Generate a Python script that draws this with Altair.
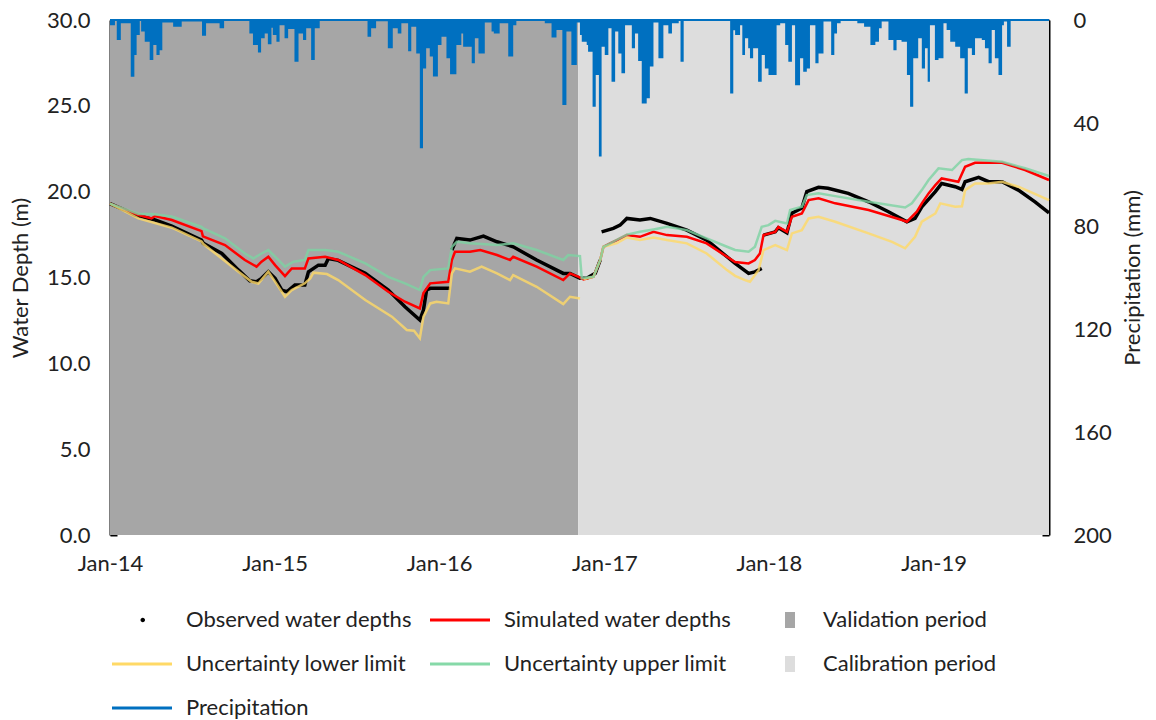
import altair as alt
import pandas as pd

FONT = "Lato"
TEXT = "#222222"

# ---- observed water depths (m); segment id breaks the trace at data gaps
obs_dates = [
    "2014-01-01", "2014-02-03", "2014-02-25", "2014-04-11", "2014-05-18", "2014-07-23",
    "2014-07-27", "2014-09-06", "2014-10-13", "2014-11-07", "2014-11-22", "2014-12-03",
    "2014-12-18", "2015-01-02", "2015-01-17", "2015-01-28", "2015-02-15", "2015-03-09",
    "2015-03-17", "2015-04-08", "2015-04-23", "2015-04-30", "2015-05-22", "2015-07-21",
    "2015-09-10", "2015-10-17", "2015-11-19", "2015-11-27", "2015-12-04", "2015-12-12",
    "2016-01-25",
    "2016-01-29", "2016-02-09", "2016-03-09", "2016-04-08", "2016-05-08", "2016-06-13",
    "2016-08-04", "2016-10-02", "2016-10-17", "2016-11-08", "2016-11-23", "2016-12-12",
    "2016-12-23",
    "2016-12-26", "2017-01-21", "2017-02-05", "2017-02-20", "2017-03-21", "2017-04-13",
    "2017-05-20", "2017-07-03", "2017-08-16", "2017-09-30", "2017-10-18", "2017-11-17",
    "2017-12-01", "2017-12-16",
    "2017-12-20", "2018-01-15", "2018-01-22", "2018-02-10", "2018-02-21", "2018-03-15",
    "2018-03-26", "2018-04-21", "2018-05-12", "2018-06-26", "2018-08-10", "2018-09-23",
    "2018-11-03", "2018-11-21", "2018-12-06", "2019-01-05", "2019-01-19", "2019-02-18",
    "2019-03-05", "2019-03-12", "2019-04-11", "2019-05-03", "2019-06-02", "2019-07-08",
    "2019-08-14", "2019-09-14",
]
obs_depth = [
    19.30, 18.93, 18.64, 18.35, 18.00, 17.18,
    16.99, 16.40, 15.43, 14.81, 14.75, 14.95,
    15.34, 14.95, 14.27, 14.17, 14.56, 14.56,
    15.33, 15.72, 15.72, 16.10, 16.00, 15.24,
    14.27, 13.30, 12.52, 13.10, 14.27, 14.37,
    14.37,
    16.60, 17.28, 17.18, 17.41, 17.08, 16.79,
    16.02, 15.24, 15.24, 14.95, 14.95, 15.24,
    16.02,
    17.66, 17.86, 18.05, 18.44, 18.35, 18.44,
    18.15, 17.76, 17.18, 16.21, 15.82, 15.24,
    15.33, 15.53,
    17.47, 17.66, 17.90, 17.60, 18.75, 19.05,
    20.00, 20.25, 20.20, 19.90, 19.41, 18.83,
    18.25, 18.44, 19.12, 20.00, 20.48, 20.29,
    20.13, 20.58, 20.83, 20.58, 20.58, 20.09,
    19.41, 18.77,
]
obs_seg = [0] * 31 + [1] * 13 + [2] * 14 + [3] * 26

# ---- simulated water depths (m)
sim_dates = [
    "2014-01-01", "2014-03-05", "2014-04-03", "2014-04-11", "2014-05-18", "2014-07-23",
    "2014-07-26", "2014-09-13", "2014-10-27", "2014-11-22", "2014-12-03", "2014-12-18",
    "2015-01-02", "2015-01-24", "2015-02-08", "2015-03-09", "2015-03-17", "2015-04-23",
    "2015-05-22", "2015-07-21", "2015-09-10", "2015-10-17", "2015-11-19", "2015-11-27",
    "2015-12-12", "2016-01-21", "2016-01-29", "2016-02-05", "2016-03-09", "2016-04-01",
    "2016-05-08", "2016-06-06", "2016-06-13", "2016-08-04", "2016-10-02", "2016-10-17",
    "2016-11-05", "2016-11-16", "2016-12-08", "2016-12-23", "2016-12-30", "2017-01-14",
    "2017-01-29", "2017-02-20", "2017-03-21", "2017-04-20", "2017-05-20", "2017-07-03",
    "2017-08-16", "2017-09-30", "2017-10-18", "2017-11-17", "2017-12-01", "2017-12-12",
    "2017-12-20", "2018-01-15", "2018-01-22", "2018-02-10", "2018-02-21", "2018-03-15",
    "2018-03-30", "2018-04-21", "2018-05-28", "2018-08-10", "2018-10-23", "2018-11-03",
    "2018-11-25", "2018-12-06", "2018-12-21", "2019-01-05", "2019-01-19", "2019-02-25",
    "2019-03-12", "2019-04-03", "2019-06-02", "2019-07-23", "2019-09-14",
]
sim_depth = [
    19.30, 18.64, 18.44, 18.58, 18.35, 17.70,
    17.40, 16.89, 16.02, 15.63, 15.92, 16.21,
    15.72, 15.08, 15.53, 15.53, 16.11, 16.21,
    16.02, 15.14, 14.17, 13.59, 13.20, 14.10,
    14.66, 14.75, 16.02, 16.50, 16.50, 16.60,
    16.31, 16.02, 16.21, 15.63, 14.85, 15.24,
    15.04, 14.89, 15.04, 16.02, 16.79, 16.99,
    17.18, 17.47, 17.37, 17.66, 17.47, 17.37,
    16.99, 16.21, 15.90, 15.82, 16.02, 16.40,
    17.47, 17.66, 17.95, 17.66, 18.54, 18.73,
    19.51, 19.61, 19.32, 18.93, 18.35, 18.25,
    18.83, 19.32, 19.90, 20.38, 20.77, 20.58,
    21.45, 21.68, 21.68, 21.26, 20.68,
]

# ---- uncertainty upper limit (m)
up_dates = [
    "2014-01-01", "2014-03-05", "2014-04-03", "2014-05-18", "2014-07-23", "2014-07-27",
    "2014-09-13", "2014-10-27", "2014-11-15", "2014-12-03", "2014-12-18", "2015-01-02",
    "2015-01-24", "2015-02-12", "2015-03-09", "2015-03-17", "2015-04-23", "2015-05-22",
    "2015-07-21", "2015-09-10", "2015-10-17", "2015-11-19", "2015-11-27", "2015-12-12",
    "2016-01-21", "2016-01-29", "2016-02-09", "2016-03-09", "2016-05-08", "2016-06-13",
    "2016-08-04", "2016-10-02", "2016-10-13", "2016-11-08", "2016-11-12", "2016-12-08",
    "2016-12-23", "2016-12-30", "2017-01-14", "2017-01-29", "2017-02-20", "2017-03-21",
    "2017-04-20", "2017-05-20", "2017-07-03", "2017-08-16", "2017-09-30", "2017-10-18",
    "2017-11-17", "2017-12-01", "2017-12-16", "2017-12-31", "2018-01-15", "2018-02-10",
    "2018-02-17", "2018-03-15", "2018-03-26", "2018-04-21", "2018-05-28", "2018-08-10",
    "2018-10-30", "2018-11-14", "2018-12-06", "2018-12-21", "2019-01-12", "2019-02-11",
    "2019-03-05", "2019-03-19", "2019-06-02", "2019-07-23", "2019-09-14",
]
up_depth = [
    19.30, 18.70, 18.70, 18.55, 17.95, 17.86,
    17.28, 16.40, 16.11, 16.40, 16.60, 16.21,
    15.63, 15.92, 16.02, 16.60, 16.60, 16.50,
    15.82, 15.04, 14.66, 14.27, 15.04, 15.43,
    15.53, 16.79, 17.08, 17.00, 16.89, 16.99,
    16.60, 16.02, 16.31, 16.25, 14.95, 15.04,
    16.02, 16.79, 16.99, 17.20, 17.50, 17.66,
    17.80, 17.95, 17.76, 17.28, 16.79, 16.60,
    16.50, 16.79, 17.95, 18.05, 18.30, 18.15,
    18.93, 19.12, 19.80, 19.90, 19.74, 19.41,
    19.08, 19.32, 20.09, 20.68, 21.36, 21.26,
    21.84, 21.90, 21.74, 21.36, 20.91,
]

# ---- uncertainty lower limit (m); two segments either side of the period change
low_dates = [
    "2014-01-01", "2014-03-05", "2014-05-18", "2014-07-23", "2014-07-27", "2014-10-13",
    "2014-11-11", "2014-11-26", "2014-12-18", "2015-01-06", "2015-01-24", "2015-02-08",
    "2015-03-09", "2015-03-21", "2015-03-28", "2015-04-27", "2015-05-22", "2015-07-21",
    "2015-09-18", "2015-10-21", "2015-11-06", "2015-11-19", "2015-11-27", "2015-12-12",
    "2015-12-26", "2016-01-21", "2016-01-29", "2016-02-05", "2016-03-09", "2016-04-04",
    "2016-05-08", "2016-06-06", "2016-06-13", "2016-08-04", "2016-10-02", "2016-10-17",
    "2016-11-08",
    "2016-11-16", "2016-12-08", "2016-12-23", "2016-12-30", "2017-01-14", "2017-01-29",
    "2017-02-20", "2017-03-21", "2017-04-20", "2017-05-20", "2017-07-03", "2017-08-16",
    "2017-09-30", "2017-10-18", "2017-11-09", "2017-11-20", "2017-12-09", "2017-12-20",
    "2018-01-15", "2018-02-10", "2018-02-21", "2018-03-15", "2018-03-30", "2018-04-21",
    "2018-05-28", "2018-08-10", "2018-10-01", "2018-10-30", "2018-11-21", "2018-12-06",
    "2019-01-05", "2019-01-16", "2019-02-18", "2019-03-05", "2019-03-12", "2019-04-03",
    "2019-05-03", "2019-06-02", "2019-07-08", "2019-09-14",
]
low_depth = [
    19.30, 18.44, 17.90, 17.10, 16.95, 15.34,
    14.75, 14.65, 15.34, 14.60, 13.88, 14.27,
    14.66, 14.95, 15.28, 15.20, 14.85, 13.69,
    12.72, 11.94, 11.90, 11.46, 12.72, 13.49,
    13.59, 13.49, 15.24, 15.53, 15.34, 15.63,
    15.24, 14.85, 15.14, 14.46, 13.45, 13.88,
    13.78,
    14.89, 15.04, 16.02, 16.79, 16.89, 17.00,
    17.33, 17.18, 17.33, 17.18, 16.99, 16.40,
    15.43, 15.10, 14.85, 14.75, 15.43, 16.60,
    16.89, 16.60, 17.57, 17.76, 18.44, 18.54,
    18.25, 17.57, 17.08, 16.70, 17.37, 18.25,
    18.73, 19.32, 19.12, 19.15, 20.09, 20.48,
    20.48, 20.58, 20.29, 19.51,
]
low_seg = [0] * 37 + [1] * 40

# ---- precipitation (mm); each value holds until the next date
rain_dates = [
    "2014-01-01", "2014-01-12", "2014-01-16", "2014-01-25", "2014-02-16", "2014-02-24",
    "2014-03-01", "2014-03-08", "2014-03-11", "2014-03-19", "2014-03-30", "2014-04-07",
    "2014-04-14", "2014-04-21", "2014-04-27", "2014-05-21", "2014-06-09", "2014-07-24",
    "2014-08-02", "2014-09-01", "2014-09-11", "2014-11-06", "2014-11-14", "2014-11-25",
    "2014-12-02", "2014-12-10", "2014-12-17", "2014-12-25", "2014-12-28", "2015-01-05",
    "2015-01-12", "2015-01-23", "2015-01-31", "2015-02-14", "2015-02-23", "2015-03-05",
    "2015-03-12", "2015-03-23", "2015-03-31", "2015-04-11", "2015-07-26", "2015-08-03",
    "2015-08-14", "2015-09-09", "2015-09-20", "2015-10-01", "2015-10-09", "2015-10-24",
    "2015-10-31", "2015-11-11", "2015-11-19", "2015-11-26", "2015-12-03", "2015-12-11",
    "2015-12-18", "2015-12-29", "2016-01-06", "2016-01-17", "2016-01-25", "2016-02-08",
    "2016-02-19", "2016-02-23", "2016-03-13", "2016-03-20", "2016-03-28", "2016-04-11",
    "2016-04-26", "2016-05-01", "2016-05-14", "2016-06-02", "2016-06-13", "2016-06-20",
    "2016-08-22", "2016-09-06", "2016-09-17", "2016-09-30", "2016-10-09", "2016-10-20",
    "2016-11-01", "2016-11-08", "2016-11-12", "2016-11-23", "2016-11-26", "2016-12-06",
    "2016-12-13", "2016-12-20", "2016-12-26", "2017-01-02", "2017-01-10", "2017-01-17",
    "2017-01-25", "2017-02-01", "2017-02-08", "2017-02-16", "2017-03-03", "2017-03-10",
    "2017-03-17", "2017-03-25", "2017-04-05", "2017-04-12", "2017-04-20", "2017-05-01",
    "2017-05-12", "2017-05-23", "2017-05-31", "2017-06-15", "2017-06-19", "2017-06-26",
    "2017-10-07", "2017-10-14", "2017-10-18", "2017-10-29", "2017-11-03", "2017-11-09",
    "2017-11-16", "2017-11-20", "2017-11-27", "2017-12-08", "2017-12-16", "2017-12-23",
    "2017-12-31", "2018-01-18", "2018-01-26", "2018-02-06", "2018-02-13", "2018-02-21",
    "2018-02-28", "2018-03-11", "2018-03-18", "2018-03-26", "2018-04-02", "2018-04-14",
    "2018-04-21", "2018-05-02", "2018-05-19", "2018-05-26", "2018-06-01", "2018-06-09",
    "2018-07-16", "2018-07-31", "2018-08-14", "2018-08-25", "2018-09-02", "2018-09-08",
    "2018-09-23", "2018-10-04", "2018-10-11", "2018-10-22", "2018-11-03", "2018-11-10",
    "2018-11-17", "2018-11-28", "2018-12-06", "2018-12-13", "2018-12-19", "2018-12-24",
    "2019-01-04", "2019-01-12", "2019-01-23", "2019-01-30", "2019-02-07", "2019-02-18",
    "2019-03-01", "2019-03-11", "2019-03-18", "2019-03-27", "2019-04-03", "2019-04-18",
    "2019-04-25", "2019-05-03", "2019-05-10", "2019-05-17", "2019-05-25", "2019-06-02",
    "2019-06-06", "2019-06-13", "2019-06-21", "2019-09-14",
]
rain_mm = [
    2.0, 0.0, 7.8, 1.3, 22.0, 13.6,
    5.8, 0.0, 4.5, 8.4, 15.5, 9.7,
    13.6, 11.7, 1.0, 2.6, 0.6, 6.1,
    1.3, 3.2, 0.4, 5.2, 9.7, 12.6,
    7.1, 5.2, 9.4, 3.0, 5.8, 8.4,
    2.0, 7.1, 3.5, 16.2, 5.2, 7.8,
    3.2, 15.5, 3.2, 0.3, 6.5, 3.2,
    0.5, 11.0, 3.2, 5.2, 1.3, 12.1,
    2.6, 13.0, 49.8, 18.8, 11.0, 14.2,
    21.9, 9.7, 6.5, 14.9, 21.1, 9.7,
    5.2, 10.4, 16.8, 7.1, 13.0, 1.0,
    4.5, 5.2, 1.3, 14.2, 2.0, 0.3,
    1.3, 6.8, 3.9, 33.0, 4.5, 17.5,
    1.0, 5.8, 8.4, 9.7, 12.3, 33.7,
    21.4, 53.0, 10.4, 13.6, 3.2, 24.0,
    4.5, 13.0, 20.7, 2.0, 11.0, 5.2,
    15.9, 32.4, 30.4, 18.1, 1.0, 14.9,
    2.0, 5.2, 1.3, 0.0, 16.2, 0.2,
    28.5, 4.0, 5.8, 2.0, 13.6, 7.1,
    11.0, 14.9, 11.0, 24.0, 13.6, 18.8,
    21.4, 2.0, 1.3, 9.7, 16.2, 2.0,
    25.3, 14.9, 20.1, 18.8, 2.0, 16.8,
    13.0, 0.6, 13.6, 5.2, 1.3, 0.2,
    1.3, 2.6, 9.7, 8.4, 3.2, 0.6,
    7.8, 11.7, 7.8, 8.4, 21.4, 33.7,
    14.9, 7.1, 18.8, 11.0, 24.0, 2.0,
    15.5, 14.9, 1.3, 3.9, 8.4, 10.4,
    14.9, 28.5, 11.0, 13.6, 7.1, 7.8,
    11.0, 16.8, 3.9, 14.9, 21.4, 2.0,
    0.6, 10.4, 0.0, 0.0,
]

# ---- model periods
period_names = ["Validation period", "Calibration period"]
period_start = ["2014-01-01", "2016-11-04"]
period_end = ["2016-11-04", "2019-09-14"]

# ---- legend entries (row-major, three columns)
legend_names = [
    "Observed water depths", "Simulated water depths", "Validation period",
    "Uncertainty lower limit", "Uncertainty upper limit", "Calibration period",
    "Precipitation",
]
legend_colors = ["#000000", "#FF0000", "#A6A6A6", "#FFD966", "#86D9A8", "#DDDDDD", "#0070C0"]
LINE = "M-1,-0.3H11V0.3H-1Z"
DOT = "M4.7,0A0.45,0.45,0,1,1,5.6,0A0.45,0.45,0,1,1,4.7,0Z"
BOX = "M6.2,-1.6H8.2V1.6H6.2Z"
legend_shapes = [DOT, LINE, BOX, LINE, LINE, BOX, LINE]

depth_ticks = [0, 5, 10, 15, 20, 25, 30]
rain_ticks = [0, 40, 80, 120, 160, 200]
year_ticks = [2014, 2015, 2016, 2017, 2018, 2019]


def series(dates, values, seg=None):
    df = pd.DataFrame({"date": pd.to_datetime(dates), "value": values})
    df["seg"] = seg if seg is not None else 0
    return df


obs_df = series(obs_dates, obs_depth, obs_seg)
sim_df = series(sim_dates, sim_depth)
up_df = series(up_dates, up_depth)
low_df = series(low_dates, low_depth, low_seg)
rain_df = series(rain_dates, rain_mm)
period_df = pd.DataFrame({
    "period": period_names,
    "start": pd.to_datetime(period_start),
    "end": pd.to_datetime(period_end),
})
legend_df = pd.DataFrame({"series": legend_names})

x_scale = alt.Scale(domain=[alt.DateTime(year=2014, month=1, date=1),
                            alt.DateTime(year=2019, month=9, date=14)])
x_axis = alt.Axis(
    values=[alt.DateTime(year=y, month=1, date=1) for y in year_ticks],
    format="%b-%y", labelFlush=False, labelOverlap=False, domain=False, ticks=False,
    tickSize=0, grid=False, labelPadding=18, labelFont=FONT, labelFontSize=22,
    labelColor=TEXT, title=None,
)
depth_scale = alt.Scale(domain=[0, 30], nice=False, zero=False)
rain_scale = alt.Scale(domain=[0, 200], reverse=True, nice=False)

depth_axis = alt.Axis(
    orient="left", values=depth_ticks, format=".1f", ticks=False, tickSize=0,
    domain=True, domainColor="#000000", domainWidth=2, grid=False,
    labelPadding=20, labelFont=FONT, labelFontSize=22, labelColor=TEXT,
    title="Water Depth (m)", titleFont=FONT, titleFontSize=22, titleFontWeight="normal",
    titleColor=TEXT, titlePadding=14,
)
depth_tick_axis = alt.Axis(
    orient="left", offset=-7, values=depth_ticks, labels=False, domain=False,
    ticks=True, tickSize=7, tickWidth=2, tickColor="#000000", grid=False, title=None,
)
rain_axis = alt.Axis(
    orient="right", values=rain_ticks, format="d", ticks=False, tickSize=0,
    domain=True, domainColor="#000000", domainWidth=2, grid=False,
    labelPadding=24, labelFont=FONT, labelFontSize=22, labelColor=TEXT,
    title="Precipitation (mm)", titleAngle=270, titleFont=FONT, titleFontSize=22,
    titleFontWeight="normal", titleColor=TEXT, titlePadding=33,
)
rain_tick_axis = alt.Axis(
    orient="right", offset=-7, values=rain_ticks, labels=False, domain=False,
    ticks=True, tickSize=7, tickWidth=2, tickColor="#000000", grid=False, title=None,
)

# shaded validation / calibration periods
periods = alt.Chart(period_df).mark_rect().encode(
    x=alt.X("start:T", scale=x_scale, axis=x_axis),
    x2="end:T",
    fill=alt.Fill("period:N", scale=alt.Scale(domain=period_names,
                                               range=["#A6A6A6", "#DDDDDD"]), legend=None),
)

# precipitation hanging from the top edge
rain = alt.Chart(rain_df).mark_area(interpolate="step-after", color="#0070C0").encode(
    x=alt.X("date:T", scale=x_scale, axis=x_axis),
    y=alt.Y("value:Q", scale=rain_scale, axis=rain_axis),
)
rain_base = alt.Chart(rain_df).mark_rule(color="#0070C0", strokeWidth=2).encode(
    y=alt.Y(datum=0, scale=rain_scale, axis=rain_tick_axis),
)


def depth_line(df, color, width, opacity, axis):
    return alt.Chart(df).mark_line(color=color, strokeWidth=width, opacity=opacity).encode(
        x=alt.X("date:T", scale=x_scale, axis=x_axis),
        y=alt.Y("value:Q", scale=depth_scale, axis=axis),
        detail="seg:N",
    )


obs_line = depth_line(obs_df, "#000000", 3.5, 1.0, depth_axis)
sim_line = depth_line(sim_df, "#FF0000", 2.5, 1.0, depth_tick_axis)
low_line = depth_line(low_df, "#FFD966", 2.5, 0.8, None)
up_line = depth_line(up_df, "#7DD3A2", 2.5, 0.8, None)

# legend only: no rows survive the filter, the explicit domain fills the legend
legend_spec = alt.Legend(
    orient="none", direction="horizontal", legendX=-4, legendY=589, columns=3,
    title=None, padding=0,
    symbolSize=100, symbolStrokeWidth=0, symbolOpacity=1, labelOffset=58,
    labelFont=FONT, labelFontSize=22, labelColor=TEXT, labelLimit=400,
    rowPadding=22, columnPadding=11, gridAlign="each",
)
legend_layer = alt.Chart(legend_df).mark_point(filled=True, opacity=1).encode(
    color=alt.Color("series:N", scale=alt.Scale(domain=legend_names, range=legend_colors),
                    legend=legend_spec),
    shape=alt.Shape("series:N", scale=alt.Scale(domain=legend_names, range=legend_shapes),
                    legend=legend_spec),
).transform_filter("false")

chart = alt.layer(
    periods, rain, rain_base, obs_line, sim_line, low_line, up_line, legend_layer
).resolve_scale(
    y="independent"
).properties(
    width=939, height=515,
    padding={"left": 110, "top": 20, "right": 107, "bottom": 185},
    autosize=alt.AutoSizeParams(type="none"),
    background="#FFFFFF",
).configure_view(stroke=None)

chart.save("out.html", embed_options={"renderer": "svg", "actions": False})
